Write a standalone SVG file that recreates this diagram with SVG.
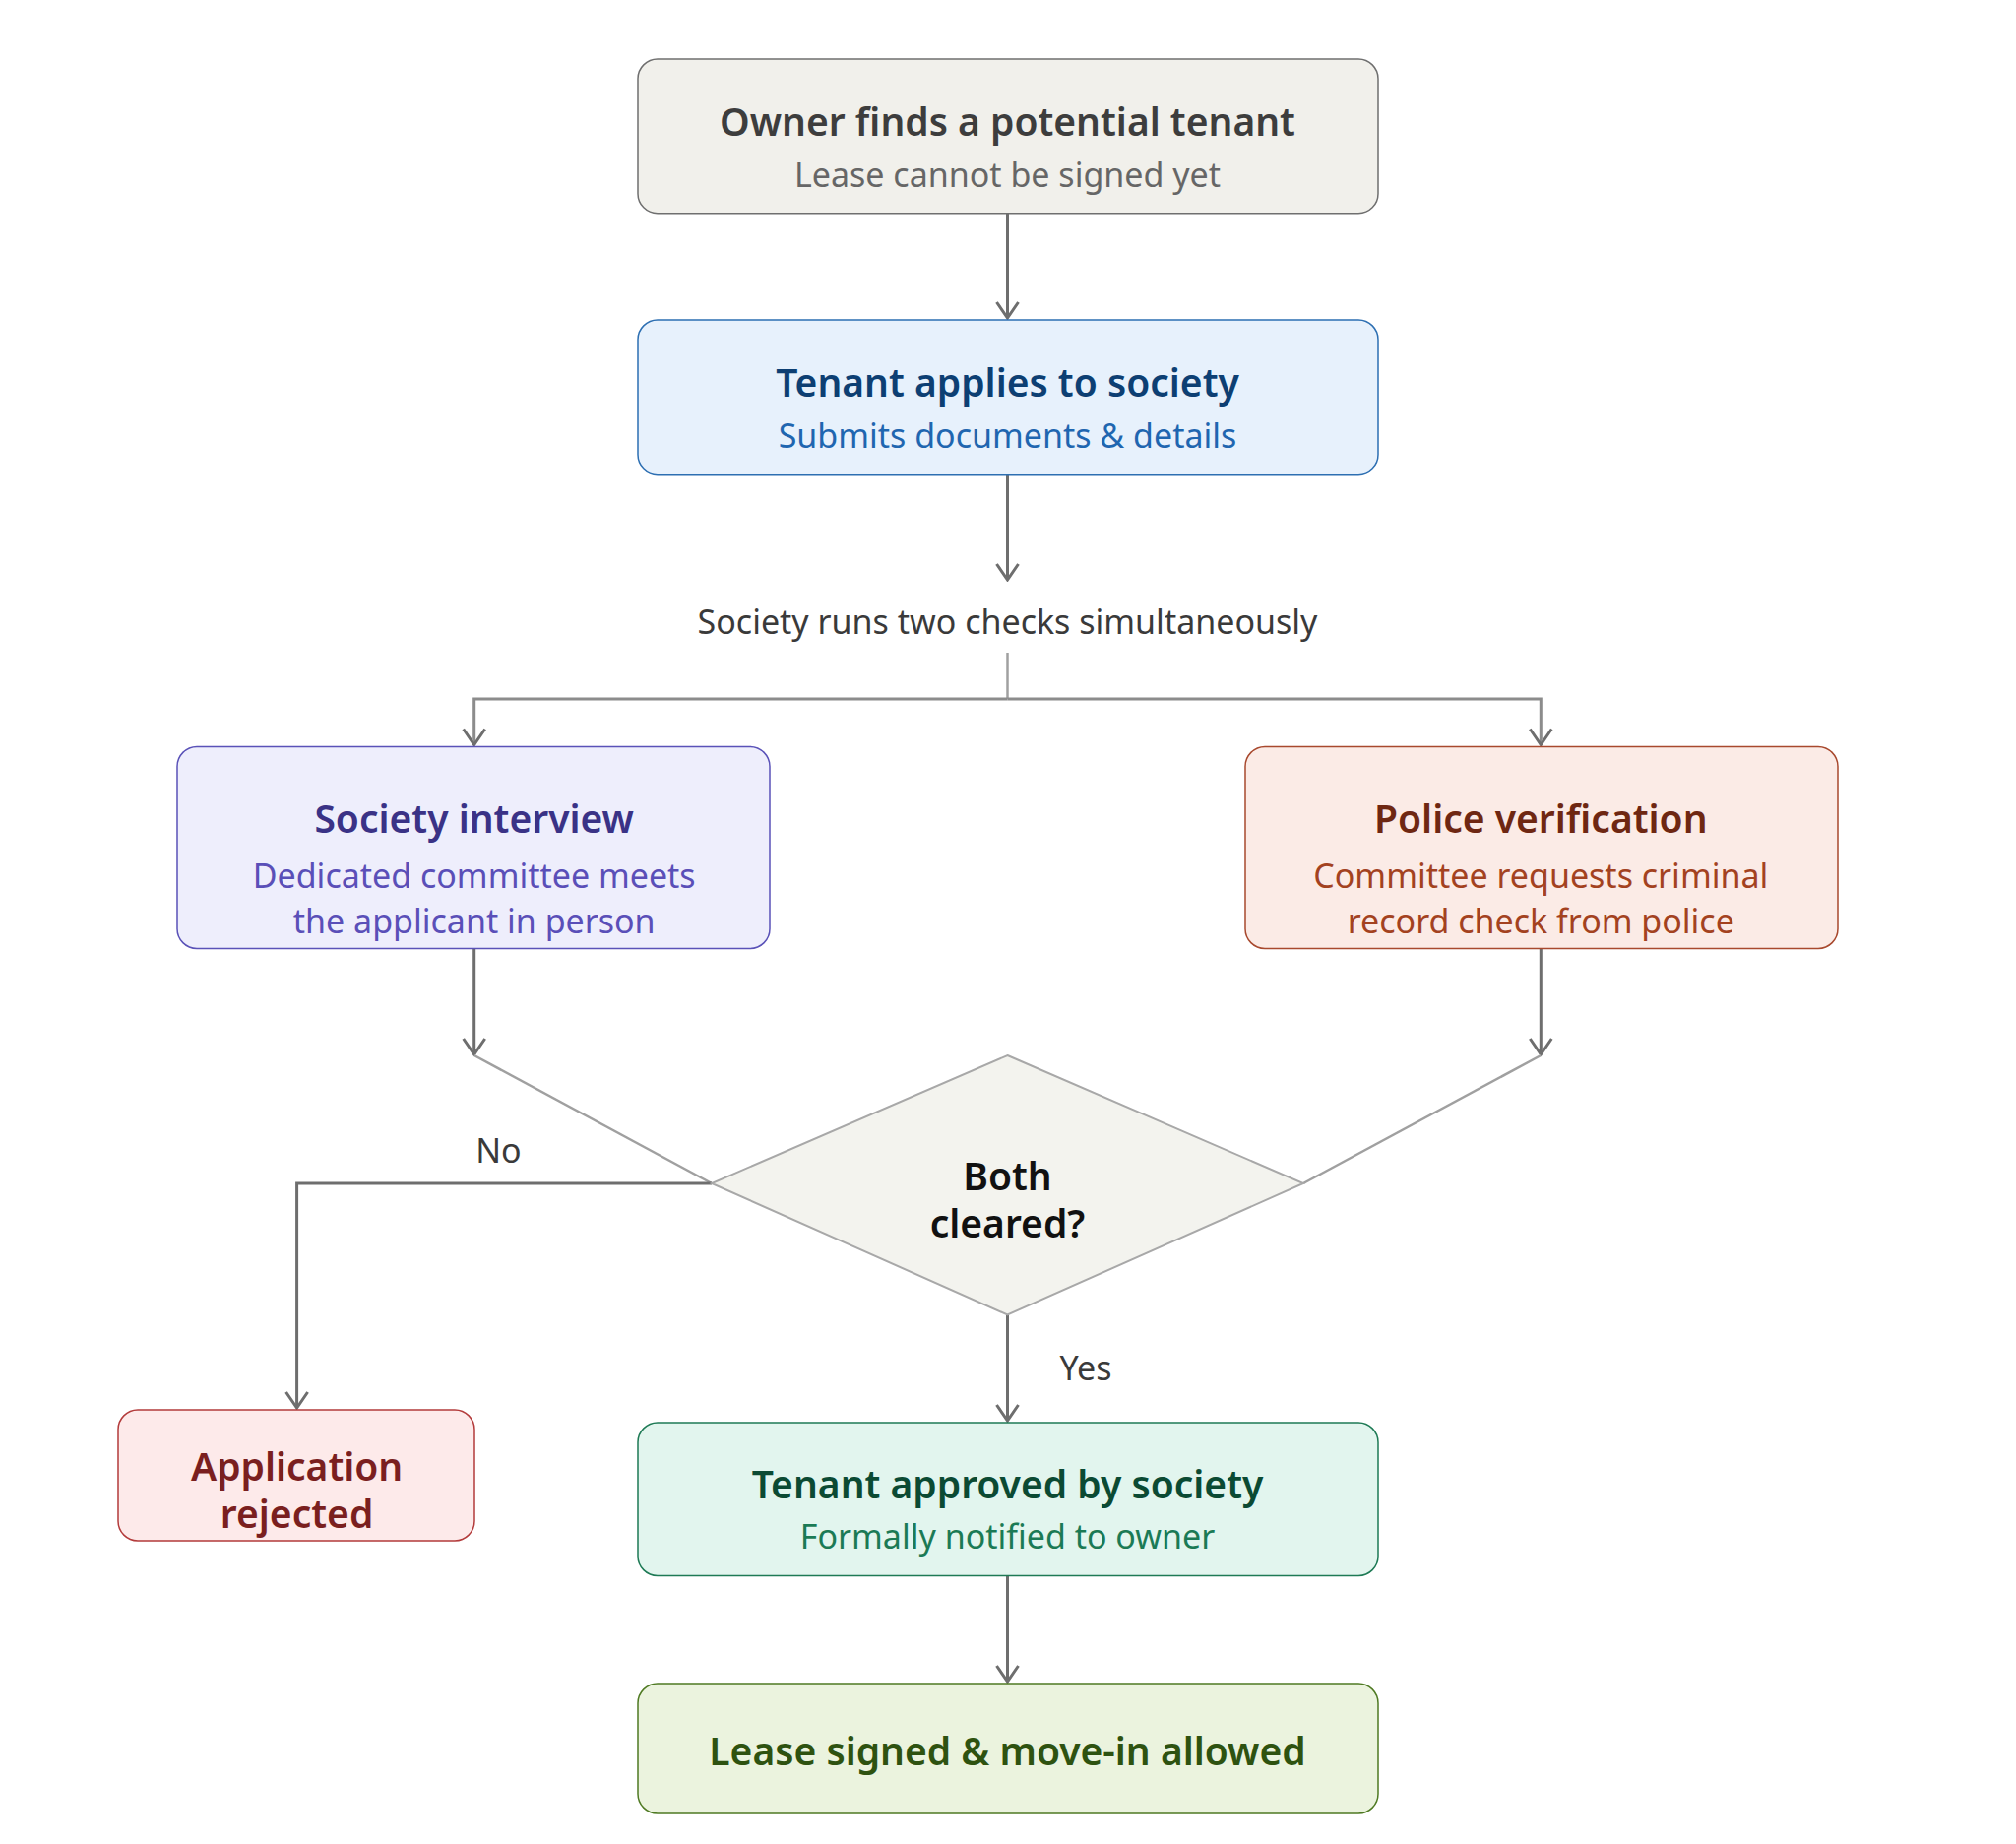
<svg xmlns="http://www.w3.org/2000/svg" width="2048" height="1873" viewBox="0 0 2048 1873">
<defs>
<marker id="arr" viewBox="-19 -14 21 28" markerWidth="21" markerHeight="28" refX="0" refY="0" orient="auto" markerUnits="userSpaceOnUse">
<path d="M-16,-11 L0,0 L-16,11" fill="none" stroke="#6e6e6e" stroke-width="3" stroke-linejoin="miter"/>
</marker>
</defs>
<style>
text{font-family:"Noto Sans","Open Sans","Liberation Sans",sans-serif;text-anchor:middle}
.t{font-size:39px;font-weight:600}
.s{font-size:34px;font-weight:400}
.lbl{font-size:34px;fill:#3a3a3a}
.c{fill:none;stroke:#6e6e6e;stroke-width:3}
.thin{fill:none;stroke:#a0a0a0;stroke-width:2.5}
.h{fill:none;stroke:#8c8c8c;stroke-width:3}
</style>
<rect width="2048" height="1873" fill="#ffffff"/>
<g id="connectors">
<path class="c" d="M1023.5,216.7 V323" marker-end="url(#arr)"/>
<path class="c" d="M1023.5,481.7 V589" marker-end="url(#arr)"/>
<path class="thin" d="M1023.5,663 V710"/>
<path class="h" d="M1023.5,710 H481.7 V756.5" marker-end="url(#arr)"/>
<path class="h" d="M1023.5,710 H1565.3 V756.5" marker-end="url(#arr)"/>
<path class="c" d="M481.7,963.5 V1071" marker-end="url(#arr)"/>
<path class="c" d="M1565.3,963.5 V1071" marker-end="url(#arr)"/>
<path class="thin" d="M481.7,1072 L723,1202"/>
<path class="thin" d="M1565.3,1072 L1324,1202"/>
<path class="c" d="M723,1202 H301.6 V1430" marker-end="url(#arr)"/>
<path class="c" d="M1023.5,1335.5 V1443" marker-end="url(#arr)"/>
<path class="c" d="M1023.5,1600.5 V1708" marker-end="url(#arr)"/>
<text class="lbl" x="1023.5" y="644">Society runs two checks simultaneously</text>
<text class="lbl" x="506.5" y="1181">No</text>
<text class="lbl" x="1103" y="1402">Yes</text>
</g>
<g id="owner">
<rect x="648" y="60" width="752" height="156.7" rx="20" fill="#f1f0eb" stroke="#6f6f6f" stroke-width="1.5"/>
<text class="t" x="1023.5" y="138" fill="#3d3d3d">Owner finds a potential tenant</text>
<text class="s" x="1023.5" y="190" fill="#666666">Lease cannot be signed yet</text>
</g>
<g id="apply">
<rect x="648" y="325" width="752" height="156.7" rx="20" fill="#e7f1fc" stroke="#2d6fb2" stroke-width="1.5"/>
<text class="t" x="1023.5" y="403" fill="#0d3f73">Tenant applies to society</text>
<text class="s" x="1023.5" y="455" fill="#1f66b0">Submits documents &amp; details</text>
</g>
<g id="interview">
<rect x="180" y="758.5" width="602" height="205" rx="20" fill="#eeeefc" stroke="#5a52b8" stroke-width="1.5"/>
<text class="t" x="481.7" y="846" fill="#3a3286">Society interview</text>
<text class="s" x="481.7" y="902" fill="#5a4fb8">Dedicated committee meets</text>
<text class="s" x="481.7" y="948" fill="#5a4fb8">the applicant in person</text>
</g>
<g id="police">
<rect x="1265" y="758.5" width="602" height="205" rx="20" fill="#fbebe6" stroke="#a8492e" stroke-width="1.5"/>
<text class="t" x="1565.3" y="846" fill="#6e2712">Police verification</text>
<text class="s" x="1565.3" y="902" fill="#a3421f">Committee requests criminal</text>
<text class="s" x="1565.3" y="948" fill="#a3421f">record check from police</text>
</g>
<g id="decision">
<polygon points="1023.5,1072 1324,1202 1023.5,1335.5 723,1202" fill="#f3f3ee" stroke="#a8a8a8" stroke-width="2"/>
<text class="t" x="1023.5" y="1208.5" fill="#111111">Both</text>
<text class="t" x="1023.5" y="1257" fill="#111111">cleared?</text>
</g>
<g id="rejected">
<rect x="120" y="1432" width="362" height="133" rx="20" fill="#fdeaea" stroke="#b33b3b" stroke-width="1.5"/>
<text class="t" x="301.6" y="1504" fill="#7a1f1f">Application</text>
<text class="t" x="301.6" y="1552" fill="#7a1f1f">rejected</text>
</g>
<g id="approved">
<rect x="648" y="1445" width="752" height="155.5" rx="20" fill="#e2f5ee" stroke="#1e7a55" stroke-width="1.5"/>
<text class="t" x="1023.5" y="1522" fill="#0b4a33">Tenant approved by society</text>
<text class="s" x="1023.5" y="1573" fill="#1b7a55">Formally notified to owner</text>
</g>
<g id="lease">
<rect x="648" y="1710" width="752" height="132" rx="20" fill="#ebf3de" stroke="#4f7a23" stroke-width="1.5"/>
<text class="t" x="1023.5" y="1793" fill="#2e5210">Lease signed &amp; move-in allowed</text>
</g>
</svg>
